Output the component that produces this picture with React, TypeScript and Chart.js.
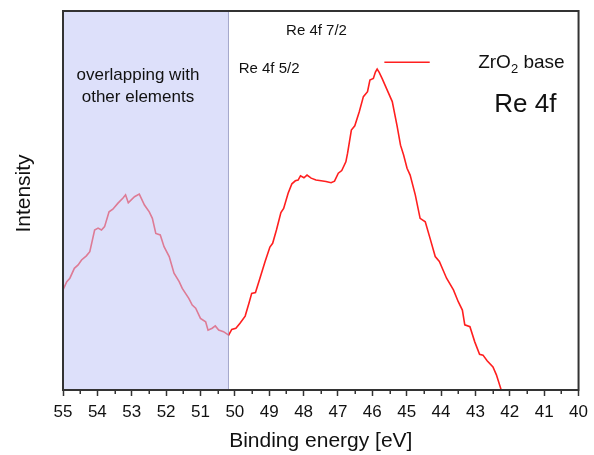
import React, { useEffect, useRef } from "react";
import { Chart, registerables } from "chart.js";

Chart.register(...registerables);

// ---- data ----
const energies = [
  55.0, 54.89, 54.8, 54.67, 54.56, 54.46, 54.32, 54.22, 54.08, 53.98,
  53.88, 53.79, 53.66, 53.55, 53.4, 53.26, 53.18, 53.1, 52.92, 52.78,
  52.63, 52.49, 52.4, 52.3, 52.17, 52.06, 51.91, 51.77, 51.62, 51.53,
  51.34, 51.24, 51.14, 51.0, 50.85, 50.78, 50.66, 50.57, 50.47, 50.33,
  50.18, 50.09, 49.97, 49.85, 49.7, 49.59, 49.51, 49.4, 49.27, 49.12,
  48.98, 48.9, 48.79, 48.66, 48.58, 48.45, 48.34, 48.24, 48.16, 48.09,
  47.99, 47.9, 47.78, 47.64, 47.49, 47.35, 47.2, 47.1, 46.99, 46.89,
  46.77, 46.72, 46.61, 46.51, 46.38, 46.26, 46.14, 46.07, 45.97, 45.91,
  45.86, 45.8, 45.71, 45.57, 45.42, 45.28, 45.18, 45.09, 44.99, 44.9,
  44.75, 44.61, 44.46, 44.32, 44.17, 44.05, 43.84, 43.64, 43.5, 43.38,
  43.31, 43.16, 43.02, 42.88, 42.78, 42.66, 42.49, 42.39, 42.25, 42.19,
];

const intensity = [
  26.4, 28.6, 29.5, 32.1, 33.0, 34.3, 35.4, 36.5, 42.2, 42.7,
  42.2, 43.1, 47.0, 47.7, 49.3, 50.6, 51.5, 49.4, 51.0, 51.7,
  48.8, 47.0, 45.3, 41.3, 40.9, 37.8, 35.2, 30.8, 28.6, 26.8,
  24.2, 22.4, 21.6, 18.9, 18.0, 15.8, 16.3, 16.9, 15.8, 15.4,
  14.5, 16.0, 16.3, 17.6, 19.5, 22.9, 25.5, 25.7, 29.5, 33.9,
  37.7, 38.7, 42.2, 46.8, 47.9, 51.9, 54.4, 55.2, 55.4, 56.5,
  56.0, 56.7, 55.9, 55.4, 55.2, 55.0, 54.7, 55.1, 57.2, 57.9,
  60.2, 62.5, 68.6, 69.7, 73.4, 77.4, 78.7, 81.8, 82.2, 83.9,
  84.7, 83.8, 82.1, 79.2, 76.1, 69.7, 64.6, 62.0, 58.5, 56.7,
  51.5, 45.3, 44.4, 40.0, 35.2, 33.9, 29.5, 26.4, 23.3, 21.1,
  17.2, 16.7, 12.7, 9.4, 9.2, 7.7, 6.1, 4.0, 0, -1.6,
];

const xTicks = [55, 54, 53, 52, 51, 50, 49, 48, 47, 46, 45, 44, 43, 42, 41, 40];
const xRange = [40, 55];
const yRange = [0, 100];
const shadedRange = [55, 50.2];

const xTitle = "Binding energy [eV]";
const yTitle = "Intensity";
const seriesName = ["ZrO", "2", " base"];
const regionLabel = ["overlapping with", "other elements"];
const peakLabels = ["Re 4f 7/2", "Re 4f 5/2"];
const panelTitle = "Re 4f";

// ---- styling / layout ----
const FONT = '"Liberation Sans", Arial, Helvetica, sans-serif';
const TEXT = "#111";
const FRAME = "#333";
const LINE = "#ff1f1f";

const overlayPlugin = {
  id: "overlay",
  afterDatasetsDraw(chart: any) {
    const { ctx, chartArea: a, scales } = chart;
    const x = scales.x;
    const x0 = x.getPixelForValue(shadedRange[0]);
    const x1 = x.getPixelForValue(shadedRange[1]);
    ctx.save();
    ctx.fillStyle = "rgba(193,199,246,0.55)";
    ctx.fillRect(Math.min(x0, x1), a.top, Math.abs(x1 - x0), a.bottom - a.top);
    ctx.strokeStyle = "rgba(140,145,190,0.8)";
    ctx.lineWidth = 1;
    ctx.beginPath();
    ctx.moveTo(Math.max(x0, x1) + 0.5, a.top);
    ctx.lineTo(Math.max(x0, x1) + 0.5, a.bottom);
    ctx.stroke();
    ctx.restore();
  },
  afterDraw(chart: any) {
    const { ctx, chartArea: a, scales } = chart;
    const x = scales.x;
    const y = scales.y;
    ctx.save();
    // frame
    ctx.strokeStyle = FRAME;
    ctx.lineWidth = 2;
    ctx.strokeRect(a.left, a.top, a.right - a.left, a.bottom - a.top);
    // minor ticks
    ctx.lineWidth = 1.5;
    for (let i = 0; i < xTicks.length - 1; i++) {
      const v = (xTicks[i] + xTicks[i + 1]) / 2;
      const px = Math.round(x.getPixelForValue(v)) + 0.25;
      ctx.beginPath();
      ctx.moveTo(px, a.bottom);
      ctx.lineTo(px, a.bottom + 4);
      ctx.stroke();
    }
    ctx.fillStyle = TEXT;
    // axis titles
    ctx.font = `21px ${FONT}`;
    ctx.textAlign = "center";
    ctx.textBaseline = "alphabetic";
    ctx.fillText(xTitle, (a.left + a.right) / 2, 447);
    ctx.save();
    ctx.translate(30, (a.top + a.bottom) / 2 - 7);
    ctx.rotate(-Math.PI / 2);
    ctx.fillText(yTitle, 0, 0);
    ctx.restore();

    // region label
    ctx.font = `17px ${FONT}`;
    ctx.textAlign = "center";
    ctx.textBaseline = "middle";
    const rx = x.getPixelForValue(52.82);
    ctx.fillText(regionLabel[0], rx, y.getPixelForValue(83.1));
    ctx.fillText(regionLabel[1], rx, y.getPixelForValue(77.3));

    // peak labels
    ctx.font = `15px ${FONT}`;
    ctx.textAlign = "left";
    ctx.fillText(peakLabels[0], x.getPixelForValue(48.51), y.getPixelForValue(94.7));
    ctx.fillText(peakLabels[1], x.getPixelForValue(49.89), y.getPixelForValue(84.7));

    // legend
    const ly = y.getPixelForValue(86.5);
    ctx.strokeStyle = LINE;
    ctx.lineWidth = 1.5;
    ctx.beginPath();
    ctx.moveTo(x.getPixelForValue(45.65), ly);
    ctx.lineTo(x.getPixelForValue(44.33), ly);
    ctx.stroke();
    let tx = x.getPixelForValue(42.92);
    const ty = y.getPixelForValue(86.3);
    ctx.font = `19px ${FONT}`;
    ctx.fillText(seriesName[0], tx, ty);
    tx += ctx.measureText(seriesName[0]).width;
    ctx.font = `13px ${FONT}`;
    ctx.fillText(seriesName[1], tx, ty + 6);
    tx += ctx.measureText(seriesName[1]).width;
    ctx.font = `19px ${FONT}`;
    ctx.fillText(seriesName[2], tx, ty);

    // panel title
    ctx.font = `26px ${FONT}`;
    ctx.fillText(panelTitle, x.getPixelForValue(42.45), y.getPixelForValue(75.2));
    ctx.restore();
  },
};

export default function App() {
  const ref = useRef<HTMLCanvasElement>(null);
  useEffect(() => {
    if (!ref.current) return;
    const chart = new Chart(ref.current, {
      type: "line",
      data: {
        datasets: [
          {
            label: seriesName.join(""),
            data: energies.map((e, i) => ({ x: e, y: intensity[i] })),
            borderColor: LINE,
            borderWidth: 1.6,
            pointRadius: 0,
            tension: 0,
            fill: false,
          },
        ],
      },
      options: {
        responsive: false,
        animation: false,
        devicePixelRatio: 1,
        layout: { padding: { left: 63, right: 11, top: 11, bottom: 0 } },
        plugins: { legend: { display: false }, tooltip: { enabled: false } },
        scales: {
          x: {
            type: "linear",
            min: xRange[0],
            max: xRange[1],
            reverse: true,
            afterFit: (s: any) => {
              s.height = 65;
            },
            afterBuildTicks: (s: any) => {
              s.ticks = xTicks.map((v) => ({ value: v }));
            },
            ticks: {
              autoSkip: false,
              maxRotation: 0,
              padding: 6,
              color: TEXT,
              font: { family: FONT, size: 17 },
              callback: (v: any) => String(v),
            },
            grid: {
              drawOnChartArea: false,
              drawTicks: true,
              tickLength: 6,
              tickWidth: 1.5,
              tickColor: FRAME,
            },
            border: { display: true, color: FRAME, width: 2 },
          },
          y: { display: false, min: yRange[0], max: yRange[1] },
        },
      } as any,
      plugins: [overlayPlugin],
    });
    return () => chart.destroy();
  }, []);
  return (
    <div style={{ position: "fixed", left: 0, top: 0, width: 594, height: 455, background: "#fff" }}>
      <canvas ref={ref} width={594} height={455} style={{ display: "block", width: 594, height: 455 }} />
    </div>
  );
}
